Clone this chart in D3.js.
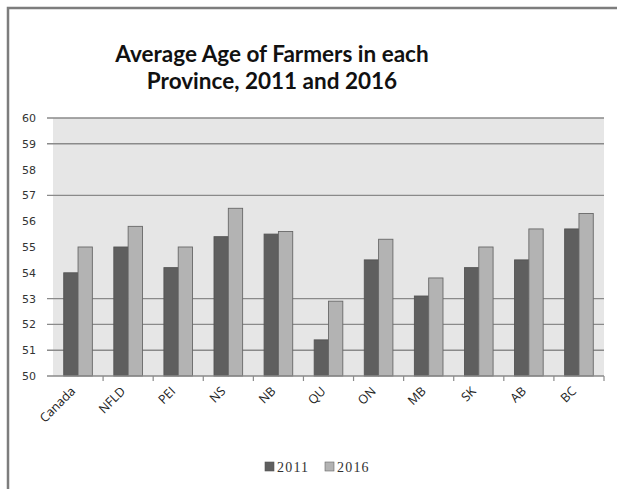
<!DOCTYPE html>
<html>
<head>
<meta charset="utf-8">
<script src="https://cdn.jsdelivr.net/npm/d3@7"></script>
<style>
  html, body { margin: 0; padding: 0; background: #fff; }
  svg { display: block; }
</style>
</head>
<body>
<svg id="chart" width="617" height="489"></svg>
<script>
// Average farmer age by province
const categories = ["Canada", "NFLD", "PEI", "NS", "NB", "QU", "ON", "MB", "SK", "AB", "BC"];
const seriesNames = ["2011", "2016"];
const values2011 = [54.0, 55.0, 54.2, 55.4, 55.5, 51.4, 54.5, 53.1, 54.2, 54.5, 55.7];
const values2016 = [55.0, 55.8, 55.0, 56.5, 55.6, 52.9, 55.3, 53.8, 55.0, 55.7, 56.3];
const yTicks = [50, 51, 52, 53, 54, 55, 56, 57, 58, 59, 60];
const gridValues = [51, 52, 53, 57, 59, 60];
const titleLines = ["Average Age of Farmers in each", "Province, 2011 and 2016"];

const colors = { "2011": "#5f5f5f", "2016": "#b3b3b3" };
const strokes = { "2011": "#545454", "2016": "#686868" };

const svg = d3.select("#chart");
const plot = { left: 53, right: 604, top: 118, bottom: 376 };

// Chart frame (left and top edges)
svg.append("path")
  .attr("d", "M8,489 L8,8 L617,8")
  .attr("fill", "none")
  .attr("stroke", "#7d7d7d")
  .attr("stroke-width", 2.5);

// Title
svg.append("text")
  .attr("text-anchor", "middle")
  .attr("font-family", "Lato, 'Open Sans', sans-serif")
  .attr("font-weight", "bold")
  .attr("font-size", 22.5)
  .attr("fill", "#111")
  .selectAll("tspan")
  .data(titleLines)
  .join("tspan")
  .attr("x", 272)
  .attr("y", (d, i) => 62 + i * 26.5)
  .text(d => d);

const x = d3.scaleBand().domain(categories).range([plot.left, plot.right]).paddingInner(0).paddingOuter(0);
const y = d3.scaleLinear().domain([50, 60]).range([plot.bottom, plot.top]);
const bw = x.bandwidth() / 3.5;
const xs = d3.scaleBand().domain(seriesNames).range([bw * 0.75, bw * 2.75]);

// Plot background
svg.append("rect")
  .attr("x", plot.left).attr("y", plot.top)
  .attr("width", plot.right - plot.left).attr("height", plot.bottom - plot.top)
  .attr("fill", "#e6e6e6");

// Gridlines with tick stubs
svg.append("g").selectAll("line")
  .data(gridValues)
  .join("line")
  .attr("x1", plot.left - 6).attr("x2", plot.right)
  .attr("y1", d => y(d)).attr("y2", d => y(d))
  .attr("stroke", "#8a8a8a").attr("stroke-width", 1.4);

// Y axis labels
const yAxis = d3.axisLeft(y).tickValues(yTicks).tickSize(0).tickPadding(17).tickFormat(d3.format("d"));
const gy = svg.append("g").attr("transform", `translate(${plot.left},0)`).call(yAxis);
gy.select(".domain").remove();
gy.selectAll("text")
  .attr("font-family", "'DejaVu Sans', sans-serif")
  .attr("font-size", 11)
  .attr("fill", "#333");

// Bars
const rows = categories.map((c, i) => ({ cat: c, "2011": values2011[i], "2016": values2016[i] }));
svg.append("g").selectAll("g")
  .data(rows)
  .join("g")
  .attr("transform", d => `translate(${x(d.cat)},0)`)
  .selectAll("rect")
  .data(d => seriesNames.map(s => ({ s, v: d[s] })))
  .join("rect")
  .attr("x", d => xs(d.s))
  .attr("width", xs.bandwidth())
  .attr("y", d => y(d.v))
  .attr("height", d => y(50) - y(d.v))
  .attr("fill", d => colors[d.s])
  .attr("stroke", d => strokes[d.s])
  .attr("stroke-width", 0.9);

// X axis line and category boundary ticks
const gx = svg.append("g");
gx.append("line")
  .attr("x1", plot.left - 6).attr("x2", plot.right)
  .attr("y1", plot.bottom).attr("y2", plot.bottom)
  .attr("stroke", "#8a8a8a").attr("stroke-width", 1.4);
gx.selectAll("line.tick")
  .data(categories)
  .join("line")
  .attr("class", "tick")
  .attr("x1", d => x(d) + x.bandwidth()).attr("x2", d => x(d) + x.bandwidth())
  .attr("y1", plot.bottom).attr("y2", plot.bottom + 5)
  .attr("stroke", "#8a8a8a").attr("stroke-width", 1.2);

// Rotated category labels
gx.selectAll("text")
  .data(categories)
  .join("text")
  .attr("transform", d => `translate(${x(d) + x.bandwidth() / 2 - 2},${plot.bottom + 16}) rotate(-45)`)
  .attr("text-anchor", "end")
  .attr("font-family", "'Open Sans', sans-serif")
  .attr("font-size", 12.5)
  .attr("fill", "#222")
  .text(d => d);

// Legend
const legend = svg.append("g").attr("transform", "translate(265,462)");
const items = legend.selectAll("g")
  .data(seriesNames)
  .join("g")
  .attr("transform", (d, i) => `translate(${i * 60},0)`);
items.append("rect")
  .attr("width", 9).attr("height", 9)
  .attr("fill", d => colors[d])
  .attr("stroke", d => strokes[d]).attr("stroke-width", 0.6);
items.append("text")
  .attr("x", 12).attr("y", 9.5)
  .attr("font-family", "'Liberation Serif', serif")
  .attr("font-size", 14)
  .attr("letter-spacing", 1.2)
  .attr("fill", "#333")
  .text(d => d);
</script>
</body>
</html>
